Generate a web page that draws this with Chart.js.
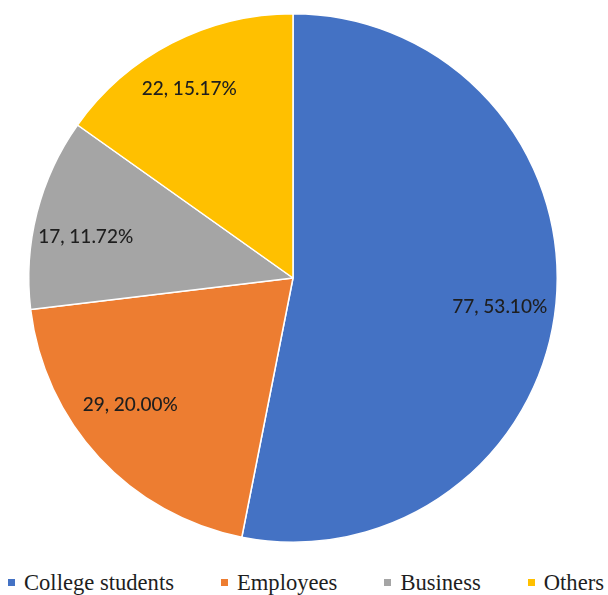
<!DOCTYPE html>
<html>
<head>
<meta charset="utf-8">
<script src="https://cdn.jsdelivr.net/npm/chart.js@4"></script>
<style>
    html, body { margin: 0; padding: 0; background: #fff; }
    .wrap { position: relative; width: 608px; height: 595px; overflow: hidden; }
    .chart-box { position: absolute; left: 0; top: 0; width: 608px; height: 555px; }
    .legenda {
        position: absolute; left: 8px; top: 570px; height: 26px;
        display: flex; align-items: center; gap: 47px;
        font-family: "Liberation Serif", "Times New Roman", serif;
        font-size: 22.6px; color: #1e1e1e; white-space: nowrap;
    }
    .legenda .item { display: flex; align-items: center; }
    .legenda .quad { width: 7px; height: 7px; margin-right: 9px; margin-top: -1px; }
</style>
</head>
<body>
<div class="wrap">
    <div class="chart-box"><canvas id="chartPizza"></canvas></div>
    <div class="legenda" id="legenda"></div>
</div>
<script>
const categorias = ['College students', 'Employees', 'Business', 'Others'];
const quantidades = [77, 29, 17, 22];
const cores = ['#4472C4', '#ED7D31', '#A5A5A5', '#FFC000'];

const total = quantidades.reduce((s, q) => s + q, 0);

// rótulos "n, pct%" dentro de cada fatia
const rotulosFatias = {
    id: 'rotulosFatias',
    afterDatasetsDraw(chart, args, opts) {
        const ctx = chart.ctx;
        const meta = chart.getDatasetMeta(0);
        ctx.save();
        ctx.font = opts.font;
        ctx.fillStyle = opts.color;
        ctx.textAlign = 'center';
        ctx.textBaseline = 'middle';
        meta.data.forEach((arc, i) => {
            const { x, y, startAngle, endAngle, outerRadius } = arc.getProps(['x', 'y', 'startAngle', 'endAngle', 'outerRadius'], true);
            const meio = (startAngle + endAngle) / 2 + (opts.desvioAngulo[i] || 0) * Math.PI / 180;
            const r = outerRadius * opts.raio[i];
            const valor = quantidades[i];
            const pct = (valor / total * 100).toFixed(2);
            ctx.fillText(`${valor}, ${pct}%`, x + Math.cos(meio) * r, y + Math.sin(meio) * r);
        });
        ctx.restore();
    }
};

new Chart(document.getElementById('chartPizza'), {
    type: 'pie',
    data: {
        labels: categorias,
        datasets: [{
            data: quantidades,
            backgroundColor: cores,
            borderColor: '#ffffff',
            borderWidth: 1.5,
        }]
    },
    options: {
        responsive: true,
        maintainAspectRatio: false,
        animation: false,
        layout: { padding: { top: 13, bottom: 12, left: 0, right: 22 } },
        plugins: {
            legend: { display: false },
            tooltip: { enabled: false },
            rotulosFatias: {
                font: '500 19px Lato, "Open Sans", sans-serif',
                color: '#1e1e1e',
                raio: [0.79, 0.78, 0.80, 0.815],
                desvioAngulo: [2.5, 5, -3, -1.5],
            }
        }
    },
    plugins: [rotulosFatias]
});

// legenda no rodapé
const legenda = document.getElementById('legenda');
categorias.forEach((nome, i) => {
    const item = document.createElement('div');
    item.className = 'item';
    item.innerHTML = `<span class="quad" style="background:${cores[i]}"></span><span>${nome}</span>`;
    legenda.appendChild(item);
});
</script>
</body>
</html>
